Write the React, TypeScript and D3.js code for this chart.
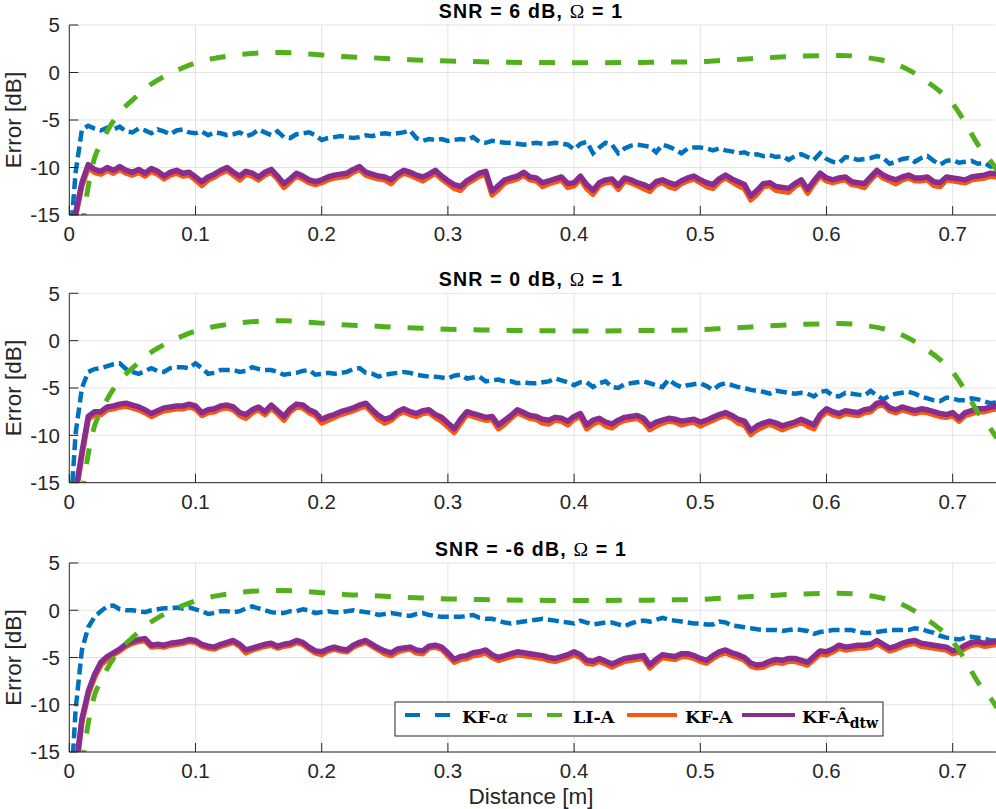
import React from 'react';
import * as d3 from 'd3';

// sampling step of the KF curves along the distance axis [m]
const STEP = 0.005;
const X_MAX = 0.734;

const xTicks = [0, 0.1, 0.2, 0.3, 0.4, 0.5, 0.6, 0.7];
const yTicks = [5, 0, -5, -10, -15];
const snrLabels = ['6', '0', '-6'];

// LI-A (same in every panel)
const liDist = [
  0.010, 0.015, 0.020, 0.025, 0.030, 0.035, 0.040, 0.045, 0.050, 0.060,
  0.070, 0.080, 0.090, 0.100, 0.110, 0.120, 0.130, 0.140, 0.150, 0.160,
  0.170, 0.180, 0.190, 0.200, 0.220, 0.240, 0.260, 0.280, 0.300, 0.320,
  0.340, 0.360, 0.380, 0.400, 0.420, 0.440, 0.460, 0.480, 0.500, 0.520,
  0.540, 0.560, 0.580, 0.600, 0.610, 0.620, 0.630, 0.640, 0.650, 0.660,
  0.670, 0.680, 0.690, 0.700, 0.710, 0.720, 0.730, 0.735,
];
const liA = [
  -16.5, -12.0, -9.0, -7.5, -6.2, -5.1, -4.2, -3.5, -2.9, -1.7,
  -0.8, -0.1, 0.5, 1.0, 1.35, 1.6, 1.8, 1.95, 2.05, 2.1,
  2.1, 2.05, 1.95, 1.85, 1.65, 1.55, 1.4, 1.3, 1.2, 1.15,
  1.1, 1.06, 1.04, 1.03, 1.03, 1.05, 1.07, 1.1, 1.15, 1.3,
  1.45, 1.6, 1.72, 1.78, 1.8, 1.75, 1.6, 1.4, 1.1, 0.6,
  -0.1, -1.0, -2.0, -3.3, -5.3, -7.6, -9.3, -10.3,
];

// SNR = 6 dB
const kfAlpha6 = [
  -19, -10.5, -6.0, -5.6, -5.9, -6.1, -5.8, -6.0, -5.7, -6.2,
  -6.3, -5.9, -6.1, -6.4, -6.0, -6.2, -6.5, -6.1, -6.0, -6.3,
  -6.4, -6.2, -6.6, -6.3, -6.4, -6.6, -6.5, -6.3, -6.7, -6.5,
  -6.0, -6.3, -6.6, -6.2, -6.8, -6.9, -6.5, -6.4, -6.3, -6.6,
  -7.1, -6.9, -6.8, -6.7, -6.8, -6.9, -6.8, -6.6, -6.7, -6.5,
  -6.4, -6.5, -6.4, -6.3, -6.1, -6.9, -7.2, -7.0, -7.1, -7.0,
  -7.2, -7.1, -7.0, -7.1, -6.8, -7.3, -7.4, -7.2, -7.3, -7.4,
  -7.4, -7.5, -7.6, -7.5, -7.4, -7.5, -7.5, -7.4, -7.5, -7.6,
  -8.1, -7.5, -7.3, -8.5, -7.9, -7.4, -7.6, -8.5, -8.0, -7.7,
  -7.6, -7.7, -7.8, -8.4, -7.6, -7.8, -8.1, -8.5, -8.0, -7.9,
  -7.9, -8.0, -8.2, -8.0, -8.2, -8.3, -8.5, -8.4, -8.7, -8.6,
  -8.8, -8.7, -8.9, -8.8, -9.2, -8.8, -8.6, -8.9, -9.2, -8.5,
  -9.1, -9.4, -9.5, -8.9, -9.0, -9.2, -9.1, -9.0, -8.8, -9.0,
  -9.6, -9.4, -9.1, -9.0, -9.4, -9.0, -8.8, -9.3, -9.7, -9.3,
  -9.2, -9.5, -9.4, -9.3, -9.6, -9.5, -9.9, -9.8,
];
const kfA6 = [
  -20.5, -15.1, -11.9, -10.0, -10.5, -10.7, -10.3, -10.6, -10.2, -10.6,
  -10.8, -10.5, -10.9, -10.4, -10.7, -11.2, -10.8, -10.6, -10.9, -10.8,
  -11.3, -11.9, -11.3, -11.0, -10.6, -10.3, -10.8, -11.3, -10.7, -10.9,
  -11.3, -10.8, -10.5, -11.2, -12.1, -11.5, -10.9, -11.2, -11.6, -11.8,
  -11.6, -11.3, -11.1, -11.0, -10.9, -10.5, -10.2, -10.8, -11.0, -11.2,
  -11.3, -11.7, -11.0, -10.6, -10.8, -11.1, -11.4, -11.0, -10.6, -11.2,
  -11.7, -12.2, -12.4, -11.7, -11.3, -10.9, -10.7, -12.9, -12.3, -11.6,
  -11.4, -11.2, -10.8, -11.3, -11.4, -12.0, -11.7, -11.5, -11.3, -12.1,
  -11.9, -11.2, -12.2, -12.8, -11.9, -11.6, -11.5, -12.3, -11.4, -11.6,
  -11.9, -12.2, -12.5, -11.8, -11.6, -12.0, -12.2, -11.7, -11.4, -11.2,
  -11.6, -12.0, -12.2, -11.5, -11.1, -11.5, -11.9, -12.2, -13.4, -12.8,
  -12.0, -11.9, -12.4, -12.5, -12.6, -12.0, -11.6, -12.7, -11.7, -10.9,
  -11.4, -11.6, -11.4, -11.3, -11.8, -11.9, -12.1, -11.3, -10.6, -11.1,
  -11.4, -11.7, -11.3, -11.1, -11.4, -11.4, -11.3, -11.9, -12.0, -11.3,
  -11.4, -11.5, -11.6, -11.3, -11.2, -11.1, -10.9, -11.0,
];
const kfAdtw6 = [
  -20, -14.8, -11.6, -9.7, -10.2, -10.4, -10.0, -10.3, -9.9, -10.3,
  -10.5, -10.2, -10.6, -10.1, -10.4, -10.9, -10.5, -10.3, -10.6, -10.5,
  -11.0, -11.5, -11.0, -10.7, -10.3, -10.0, -10.5, -10.9, -10.4, -10.6,
  -11.0, -10.5, -10.2, -10.9, -11.7, -11.2, -10.6, -10.9, -11.3, -11.5,
  -11.3, -11.0, -10.8, -10.7, -10.6, -10.2, -9.9, -10.5, -10.7, -10.9,
  -11.0, -11.3, -10.7, -10.3, -10.5, -10.8, -11.0, -10.7, -10.3, -10.9,
  -11.4, -11.8, -12.0, -11.4, -11.0, -10.6, -10.4, -12.5, -11.9, -11.3,
  -11.1, -10.9, -10.5, -11.0, -11.1, -11.6, -11.4, -11.2, -11.0, -11.7,
  -11.6, -10.9, -11.8, -12.4, -11.6, -11.3, -11.2, -11.9, -11.1, -11.3,
  -11.6, -11.8, -12.1, -11.5, -11.3, -11.6, -11.8, -11.4, -11.1, -10.9,
  -11.3, -11.6, -11.8, -11.2, -10.8, -11.2, -11.5, -11.8, -13.0, -12.4,
  -11.7, -11.6, -12.0, -12.1, -12.2, -11.7, -11.3, -12.3, -11.4, -10.6,
  -11.1, -11.3, -11.1, -11.0, -11.5, -11.6, -11.7, -11.0, -10.3, -10.8,
  -11.1, -11.3, -11.0, -10.8, -11.1, -11.1, -11.0, -11.5, -11.6, -11.0,
  -11.1, -11.2, -11.3, -11.0, -10.9, -10.8, -10.6, -10.7,
];

// SNR = 0 dB
const kfAlpha0 = [
  -20, -9.8, -5.0, -3.3, -3.0, -2.9, -2.7, -2.5, -2.4, -3.0,
  -3.3, -3.5, -3.2, -2.9, -3.2, -3.3, -2.9, -2.8, -2.8, -2.9,
  -2.4, -2.9, -3.5, -3.4, -3.1, -3.1, -3.1, -3.3, -3.2, -2.8,
  -3.0, -3.1, -3.1, -3.3, -3.6, -3.5, -3.4, -3.2, -3.1, -3.6,
  -3.5, -3.4, -3.5, -3.4, -3.3, -3.0, -2.9, -3.4, -3.5, -3.8,
  -3.6, -3.5, -3.4, -3.3, -3.4, -3.6, -3.7, -3.8, -3.8, -3.9,
  -4.0, -3.7, -3.6, -4.0, -3.9, -3.8, -4.3, -4.2, -4.1, -4.3,
  -4.3, -4.5, -4.4, -4.5, -4.5, -4.4, -4.3, -4.0, -4.2, -4.4,
  -4.7, -4.4, -4.4, -4.9, -4.5, -4.3, -4.9, -5.0, -4.6, -4.5,
  -4.4, -4.3, -4.5, -4.7, -4.9, -4.1, -4.6, -4.9, -4.7, -4.6,
  -4.5, -4.8, -5.2, -4.7, -4.5, -4.7, -4.9, -5.0, -5.2, -5.3,
  -5.4, -5.6, -5.3, -5.4, -5.5, -5.6, -5.5, -5.6, -5.9, -5.4,
  -5.3, -5.8, -5.9, -5.5, -5.6, -5.7, -5.8, -5.3, -5.8, -6.2,
  -5.8, -5.6, -5.5, -5.4, -5.6, -5.9, -6.1, -6.3, -6.4, -6.0,
  -6.1, -6.3, -6.3, -6.1, -6.2, -6.4, -6.6, -6.5,
];
const kfA0 = [
  -21.5, -16.4, -12.1, -8.3, -7.8, -7.8, -7.3, -7.2, -7.0, -6.9,
  -7.1, -7.3, -7.6, -8.0, -7.7, -7.4, -7.3, -7.2, -7.2, -7.0,
  -7.2, -7.9, -7.6, -7.5, -7.2, -7.1, -7.3, -7.9, -8.2, -7.6,
  -7.3, -7.8, -7.1, -7.7, -8.4, -7.5, -7.0, -7.1, -7.6, -7.9,
  -8.7, -8.4, -8.1, -7.8, -7.6, -7.4, -7.1, -6.9, -7.6, -8.3,
  -8.7, -8.4, -7.8, -7.5, -7.8, -8.0, -7.7, -7.6, -8.1, -8.5,
  -9.1, -9.7, -8.7, -7.8, -8.0, -8.2, -8.4, -8.3, -9.3, -8.8,
  -8.2, -7.6, -7.9, -8.2, -8.3, -8.7, -8.8, -8.4, -8.5, -8.9,
  -8.3, -8.0, -9.3, -8.8, -8.5, -9.0, -9.2, -8.7, -8.4, -8.3,
  -8.2, -8.6, -9.4, -9.0, -8.7, -8.5, -8.6, -8.9, -8.7, -8.6,
  -9.0, -8.7, -8.4, -8.1, -7.9, -8.2, -8.7, -8.9, -9.9, -9.4,
  -9.1, -8.8, -9.1, -9.4, -9.1, -8.9, -8.6, -9.0, -9.3, -8.1,
  -7.5, -7.8, -8.0, -7.7, -7.8, -7.9, -7.6, -7.5, -6.9, -6.8,
  -7.4, -7.6, -7.3, -7.5, -7.7, -7.5, -7.6, -7.8, -8.0, -8.1,
  -7.9, -8.5, -7.9, -7.7, -7.5, -7.5, -7.3, -7.2,
];
const kfAdtw0 = [
  -21, -16.0, -11.8, -8.0, -7.5, -7.5, -7.0, -6.9, -6.7, -6.6,
  -6.8, -7.0, -7.3, -7.7, -7.4, -7.1, -7.0, -6.9, -6.9, -6.7,
  -6.9, -7.6, -7.3, -7.2, -6.9, -6.8, -7.0, -7.6, -7.8, -7.3,
  -7.0, -7.5, -6.8, -7.4, -8.0, -7.2, -6.7, -6.8, -7.3, -7.6,
  -8.3, -8.0, -7.8, -7.5, -7.3, -7.1, -6.8, -6.6, -7.3, -7.9,
  -8.3, -8.1, -7.5, -7.2, -7.5, -7.7, -7.4, -7.3, -7.8, -8.1,
  -8.7, -9.3, -8.3, -7.5, -7.7, -7.9, -8.1, -8.0, -8.9, -8.4,
  -7.9, -7.3, -7.6, -7.9, -8.0, -8.3, -8.4, -8.1, -8.2, -8.5,
  -8.0, -7.7, -8.9, -8.4, -8.2, -8.6, -8.8, -8.4, -8.1, -8.0,
  -7.9, -8.2, -9.0, -8.6, -8.4, -8.2, -8.3, -8.5, -8.4, -8.3,
  -8.6, -8.4, -8.1, -7.8, -7.6, -7.9, -8.3, -8.5, -9.5, -9.0,
  -8.7, -8.5, -8.7, -9.0, -8.8, -8.6, -8.3, -8.6, -8.9, -7.8,
  -7.2, -7.5, -7.7, -7.4, -7.5, -7.6, -7.3, -7.2, -6.6, -6.5,
  -7.1, -7.3, -7.0, -7.2, -7.4, -7.2, -7.3, -7.5, -7.7, -7.8,
  -7.6, -8.2, -7.6, -7.4, -7.2, -7.2, -7.0, -6.9,
];

// SNR = -6 dB
const kfAlphaM6 = [
  -22, -10.5, -4.2, -1.8, -0.7, -0.1, 0.4, 0.5, 0.1, 0.0,
  0.0, -0.1, -0.2, 0.0, 0.1, 0.2, 0.2, 0.3, 0.2, 0.3,
  0.1, -0.1, -0.4, -0.3, -0.1, -0.1, -0.2, -0.1, 0.2, 0.4,
  0.2, 0.0, -0.2, -0.3, -0.3, -0.1, -0.1, 0.1, 0.0, -0.3,
  -0.2, -0.1, -0.2, -0.2, -0.1, 0.0, -0.1, -0.2, -0.3, -0.5,
  -0.4, -0.3, -0.4, -0.5, -0.6, -0.4, -0.3, -0.5, -0.6, -0.7,
  -0.7, -0.7, -0.7, -0.6, -0.5, -0.8, -0.9, -0.9, -1.1, -1.3,
  -1.4, -1.3, -1.2, -1.1, -1.0, -0.9, -1.0, -1.1, -1.2, -1.3,
  -1.4, -1.1, -1.3, -1.5, -1.4, -1.3, -1.3, -1.5, -1.7, -1.4,
  -1.2, -1.1, -1.2, -1.0, -0.8, -1.0, -1.1, -1.2, -1.3, -1.4,
  -1.4, -1.5, -1.5, -1.2, -1.3, -1.6, -1.7, -1.8, -1.9, -2.0,
  -2.1, -2.1, -2.1, -2.2, -2.1, -2.0, -2.1, -2.2, -2.5, -2.3,
  -2.2, -2.1, -2.1, -2.1, -2.1, -2.3, -2.4, -2.4, -2.3, -2.2,
  -2.1, -2.1, -2.1, -2.1, -1.9, -2.0, -2.2, -2.4, -2.7, -2.9,
  -3.0, -3.1, -2.9, -2.8, -2.9, -3.0, -3.2, -3.2,
];
const kfAM6 = [
  -24.5, -17.4, -11.8, -8.9, -7.1, -5.8, -5.2, -4.7, -4.3, -3.8,
  -3.5, -3.3, -3.2, -3.9, -3.8, -3.9, -3.7, -3.6, -3.5, -3.3,
  -3.4, -3.8, -4.0, -4.1, -3.8, -3.6, -3.4, -3.8, -4.5, -4.2,
  -4.0, -3.8, -3.7, -4.0, -3.8, -3.7, -3.4, -3.6, -4.1, -4.5,
  -4.7, -4.3, -4.1, -4.3, -4.4, -3.9, -3.6, -3.4, -3.8, -4.2,
  -4.6, -4.8, -4.4, -4.2, -4.1, -4.5, -4.6, -4.0, -3.9, -4.1,
  -4.8, -5.5, -5.2, -5.1, -4.8, -4.7, -4.5, -5.0, -5.3, -5.1,
  -4.9, -4.7, -4.8, -4.9, -5.0, -5.1, -5.3, -5.4, -5.2, -5.0,
  -4.7, -5.0, -5.6, -5.7, -5.4, -5.7, -6.0, -5.7, -5.4, -5.3,
  -5.2, -5.1, -6.1, -5.5, -5.0, -5.1, -5.2, -4.9, -4.9, -5.1,
  -5.4, -5.6, -5.1, -4.7, -4.5, -4.8, -5.0, -5.3, -5.9, -6.1,
  -6.0, -5.7, -5.5, -5.6, -5.4, -5.4, -5.6, -5.8, -5.2, -4.6,
  -4.7, -4.4, -4.0, -4.2, -4.1, -4.0, -4.0, -3.9, -3.5, -3.9,
  -4.3, -4.1, -3.8, -3.6, -3.5, -3.8, -3.9, -4.0, -4.1, -4.2,
  -4.6, -4.4, -4.0, -3.7, -3.6, -3.8, -3.7, -3.6,
];
const kfAdtwM6 = [
  -24, -17.0, -11.5, -8.6, -6.8, -5.5, -4.9, -4.5, -4.1, -3.6,
  -3.3, -3.1, -3.0, -3.7, -3.6, -3.7, -3.5, -3.4, -3.3, -3.1,
  -3.2, -3.6, -3.8, -3.9, -3.6, -3.4, -3.2, -3.6, -4.2, -4.0,
  -3.8, -3.6, -3.5, -3.8, -3.6, -3.5, -3.2, -3.4, -3.9, -4.3,
  -4.4, -4.1, -3.9, -4.1, -4.2, -3.7, -3.4, -3.2, -3.6, -4.0,
  -4.3, -4.5, -4.1, -4.0, -3.9, -4.2, -4.3, -3.8, -3.7, -3.9,
  -4.5, -5.2, -4.9, -4.8, -4.5, -4.4, -4.2, -4.7, -5.0, -4.8,
  -4.6, -4.4, -4.5, -4.6, -4.7, -4.8, -5.0, -5.1, -4.9, -4.7,
  -4.4, -4.7, -5.3, -5.4, -5.1, -5.4, -5.7, -5.4, -5.1, -5.0,
  -4.9, -4.8, -5.8, -5.2, -4.7, -4.8, -4.9, -4.6, -4.6, -4.8,
  -5.1, -5.3, -4.8, -4.4, -4.2, -4.5, -4.7, -5.0, -5.6, -5.8,
  -5.7, -5.4, -5.2, -5.3, -5.1, -5.1, -5.3, -5.5, -4.9, -4.3,
  -4.4, -4.1, -3.7, -3.9, -3.8, -3.7, -3.7, -3.6, -3.2, -3.6,
  -4.0, -3.8, -3.5, -3.3, -3.2, -3.5, -3.6, -3.7, -3.8, -3.9,
  -4.3, -4.1, -3.7, -3.4, -3.3, -3.5, -3.4, -3.3,
];

const panels = [
  { snr: snrLabels[0], alpha: kfAlpha6, kfA: kfA6, dtw: kfAdtw6 },
  { snr: snrLabels[1], alpha: kfAlpha0, kfA: kfA0, dtw: kfAdtw0 },
  { snr: snrLabels[2], alpha: kfAlphaM6, kfA: kfAM6, dtw: kfAdtwM6 },
];

const W = 996;
const H = 809;
const LEFT = 69.3;
const RIGHT = 995.6;
const TOPS = [25, 293.3, 563];
const HEIGHTS = [190, 189.4, 189];

const AXIS = '#262626';
const GRID = '#e3e3e3';
const BLUE = '#0072bd';
const GREEN = '#52b01c';
const ORANGE = '#ff560d';
const PURPLE = '#872d8f';

const SANS = "'Liberation Sans', Arial, Helvetica, sans-serif";
const SERIF = "'DejaVu Serif', 'Liberation Serif', serif";

const x = d3.scaleLinear().domain([0, X_MAX]).range([LEFT, RIGHT]);

function Panel({ idx }: { idx: number }) {
  const p = panels[idx];
  const top = TOPS[idx];
  const bottom = top + HEIGHTS[idx];
  const y = d3.scaleLinear().domain([-15, 5]).range([bottom, top]);

  const kfLine = d3.line<number>().x((_, i) => x(i * STEP)).y(v => y(v));
  const liLine = d3.line<number>()
    .x((_, i) => x(liDist[i]))
    .y(v => y(v))
    .curve(d3.curveMonotoneX);
  const clipId = `clip-${idx}`;

  return (
    <g>
      <defs>
        <clipPath id={clipId}>
          <rect x={LEFT} y={top} width={RIGHT - LEFT + 2} height={bottom - top} />
        </clipPath>
      </defs>

      {/* grid */}
      {xTicks.filter(t => t > 0).map(t => (
        <line key={'gx' + t} x1={x(t)} x2={x(t)} y1={top} y2={bottom} stroke={GRID} strokeWidth={1} />
      ))}
      {yTicks.map(t => (
        <line key={'gy' + t} x1={LEFT} x2={RIGHT} y1={y(t)} y2={y(t)} stroke={GRID} strokeWidth={1} />
      ))}

      {/* series */}
      <g clipPath={`url(#${clipId})`} fill="none">
        <path d={kfLine(p.alpha) || ''} stroke={BLUE} strokeWidth={4.5} strokeDasharray="11 5" />
        <path d={kfLine(p.kfA) || ''} stroke={ORANGE} strokeWidth={5.5} strokeLinejoin="round" />
        <path d={kfLine(p.dtw) || ''} stroke={PURPLE} strokeWidth={5.5} strokeLinejoin="round" />
        <path d={liLine(liA) || ''} stroke={GREEN} strokeWidth={5} strokeDasharray="16 17" />
      </g>

      {/* axes */}
      <line x1={LEFT} x2={LEFT} y1={top} y2={bottom} stroke={AXIS} strokeWidth={1} />
      <line x1={LEFT} x2={W} y1={bottom} y2={bottom} stroke={AXIS} strokeWidth={1} />
      {xTicks.map(t => (
        <g key={'tx' + t}>
          <line x1={x(t)} x2={x(t)} y1={bottom} y2={bottom - 9} stroke={AXIS} strokeWidth={1} />
          <text x={x(t)} y={bottom + 26} textAnchor="middle" fontSize={20.5} fill={AXIS}>{t}</text>
        </g>
      ))}
      {yTicks.map(t => (
        <g key={'ty' + t}>
          <line x1={LEFT} x2={LEFT + 9} y1={y(t)} y2={y(t)} stroke={AXIS} strokeWidth={1} />
          <text x={60} y={y(t)} dy="0.36em" textAnchor="end" fontSize={20.5} fill={AXIS}>{t}</text>
        </g>
      ))}

      <text
        transform={`translate(21,${(top + bottom) / 2}) rotate(-90)`}
        textAnchor="middle"
        fontSize={22.5}
        fill={AXIS}
      >
        Error [dB]
      </text>

      <text
        x={531}
        y={top - 7}
        textAnchor="middle"
        fontSize={19.5}
        fontWeight="bold"
        letterSpacing={1.2}
        fill="#000"
      >
        {`SNR = ${p.snr} dB, `}
        <tspan fontFamily="'Liberation Serif', serif" fontWeight="normal">Ω</tspan>
        {' = 1'}
      </text>
    </g>
  );
}

function Legend() {
  const ly = 715;
  const ty = 723;
  return (
    <g fontFamily={SERIF} fontWeight="bold" fontSize={17.5} fill="#000">
      <rect x={395} y={702} width={488} height={34} fill="#fff" stroke={AXIS} strokeWidth={1} />
      <line x1={405} x2={450} y1={ly} y2={ly} stroke={BLUE} strokeWidth={4} strokeDasharray="15 15" />
      <text x={462} y={ty}>KF-<tspan fontStyle="italic" fontWeight="normal">α</tspan></text>
      <line x1={517} x2={562} y1={ly} y2={ly} stroke={GREEN} strokeWidth={4} strokeDasharray="15 15" />
      <text x={573} y={ty}>LI-A</text>
      <line x1={627} x2={677} y1={ly} y2={ly} stroke={ORANGE} strokeWidth={4} />
      <text x={685} y={ty}>KF-A</text>
      <line x1={742} x2={795} y1={ly} y2={ly} stroke={PURPLE} strokeWidth={4} />
      <text x={802} y={ty}>
        KF-Â<tspan dy={5} fontSize={14}>dtw</tspan>
      </text>
    </g>
  );
}

export default function App() {
  return (
    <div>
      <style>{'body{margin:0;}'}</style>
      <svg width={W} height={H} style={{ display: 'block', background: '#fff' }} fontFamily={SANS}>
        <rect x={0} y={0} width={W} height={H} fill="#fff" />
        {panels.map((_, i) => (
          <Panel key={i} idx={i} />
        ))}
        <Legend />
        <text x={531} y={804} textAnchor="middle" fontSize={22.5} fill={AXIS}>
          Distance [m]
        </text>
      </svg>
    </div>
  );
}
